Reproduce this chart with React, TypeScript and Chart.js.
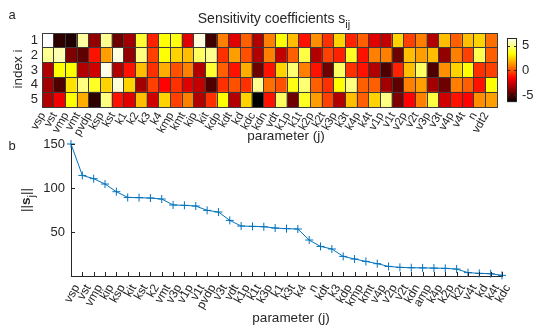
import React, { useEffect, useRef } from 'react';
import { Chart, registerables } from 'chart.js';
Chart.register(...registerables);

const FONT = '"Liberation Sans", Arial, Helvetica, sans-serif';
const INK = '#262626';

// ---- Panel a: sensitivity coefficients s_ij ----
const heatParams = ['vsp','vst','vmp','vmt','pvdp','ksp','kst','k1','k2','k3','k4','kmp','kmt','kip','kit','kdp','kdt','kd','kdc','kdn','vdt','k1p','k1t','k2p','k2t','k3p','k3t','k4p','k4t','v1p','v1t','v2p','v2t','v3p','v3t','v4p','v4t','n','vdt2'];
const rowLabels = ['1', '2', '3', '4', '5'];
const row1 = [6.6,-5.5,-5.8,5.4,-3.6,5.2,-4.3,-3.3,4.0,-0.9,3.4,3.6,-2.1,6.2,-5.2,0.9,-2.1,0.3,-3.0,0.9,3.4,2.1,-1.2,1.2,-0.6,2.5,-0.9,0.3,-2.1,-2.7,2.5,-0.3,0.9,-3.0,2.1,0.3,2.1,2.5,0.6];
const row2 = [5.2,5.6,-4.0,-4.6,-1.2,1.5,6.2,-3.6,5.0,-0.3,3.4,2.5,2.1,4.6,5.2,-0.6,1.5,0.0,-3.0,0.9,-2.7,0.3,4.2,-3.0,-0.3,-0.9,3.8,-1.2,0.9,0.9,-4.3,2.1,1.5,2.1,-3.6,0.9,-0.3,4.4,0.3];
const row3 = [-3.0,3.4,3.4,-3.0,-2.4,6.3,-3.0,-1.2,2.1,-0.6,1.8,0.0,0.9,-3.0,4.0,0.3,-1.2,1.8,-4.3,-1.2,2.5,4.8,0.9,-1.2,-4.3,4.6,-0.6,-1.2,-3.0,-4.9,-0.9,2.1,4.6,-4.9,1.2,2.5,3.4,-0.6,-0.3];
const row4 = [-3.3,-4.9,2.8,5.0,3.8,2.5,6.1,2.5,-3.3,-0.3,-1.5,-0.6,-2.1,-2.7,-4.9,-0.6,0.0,-0.6,5.2,0.6,0.0,3.6,4.8,0.3,-0.6,3.4,5.0,0.3,0.3,-3.3,-4.6,0.9,1.5,-3.3,-4.3,0.9,0.3,-1.2,3.4];
const row5 = [-3.0,-1.8,3.4,1.8,-5.5,5.0,-1.2,-2.1,2.1,-2.4,2.5,-0.3,0.9,-3.0,-0.6,3.4,-3.0,2.5,-6.4,-1.2,4.6,-4.3,3.8,1.5,-0.3,-3.0,2.1,0.3,2.5,5.0,-4.0,-1.5,0.9,4.2,-2.4,-1.2,-1.5,1.2,1.5];
const CMIN = -6.4;
const CMAX = 6.6;
const colorbarTicks = [-5, 0, 5];

// ---- Panel b: norms ||s_j|| ----
const sortedParams = ['vsp','vst','vmp','kip','ksp','kit','kst','k2','vmt','v3p','v1p','v1t','pvdp','v3t','vdt','k1p','k1t','k3p','k1','k3t','k4','n','kdt','k3','kdp','kmp','kmt','v4p','v2p','v2t','kdn','amp','k4p','k2p','k2t','v4t','kd','k4t','kdc'];
const norms = [150,114.3,110.6,104.5,95.8,89.3,89,88.6,87.5,80.7,80.3,79.5,74.6,72.7,63.2,56.8,56.4,56,54.5,53.8,53.4,40.9,33.6,30.7,22.3,19.3,16.6,14,10.9,9.8,9.4,9.2,9.0,8.7,7.9,3.8,3.0,2.6,0.7];
const normTicks = [0, 50, 100, 150];

function hot(v: number): string {
  const t = Math.min(1, Math.max(0, (v - CMIN) / (CMAX - CMIN)));
  const c = (x: number) => Math.round(Math.min(1, Math.max(0, x)) * 255);
  return `rgb(${c(t / 0.375)},${c((t - 0.375) / 0.375)},${c((t - 0.75) / 0.25)})`;
}

const inwardTicks = {
  id: 'inwardTicks',
  afterDraw(chart: any) {
    const { ctx, chartArea, scales } = chart;
    const x = scales.x, y = scales.y;
    ctx.save();
    ctx.strokeStyle = INK;
    ctx.lineWidth = 1;
    ctx.beginPath();
    x.ticks.forEach((_: any, i: number) => {
      const px = Math.round(x.getPixelForTick(i)) + 0.5;
      ctx.moveTo(px, chartArea.bottom);
      ctx.lineTo(px, chartArea.bottom - 4);
    });
    y.ticks.forEach((_: any, i: number) => {
      const py = Math.round(y.getPixelForTick(i)) + 0.5;
      ctx.moveTo(chartArea.left, py);
      ctx.lineTo(chartArea.left + 4, py);
    });
    ctx.stroke();
    ctx.restore();
  },
};

const boxOutline = {
  id: 'boxOutline',
  afterDraw(chart: any) {
    const { ctx, chartArea: a, scales } = chart;
    ctx.save();
    ctx.strokeStyle = INK;
    ctx.lineWidth = 1;
    ctx.strokeRect(Math.round(a.left) + 0.5, Math.round(a.top) + 0.5, Math.round(a.right - a.left) - 1, Math.round(a.bottom - a.top) - 1);
    const y = scales.y;
    ctx.beginPath();
    y.ticks.forEach((_: any, i: number) => {
      const py = Math.round(y.getPixelForTick(i)) + 0.5;
      ctx.moveTo(a.right, py);
      ctx.lineTo(a.right - 3, py);
      ctx.moveTo(a.left, py);
      ctx.lineTo(a.left + 3, py);
    });
    ctx.stroke();
    ctx.restore();
  },
};

const Txt = ({ x, y, rot = 0, size = 13, children }: any) => (
  <div
    style={{
      position: 'absolute',
      left: x,
      top: y,
      transform: `translate(-50%,-50%) rotate(${rot}deg)`,
      fontFamily: FONT,
      fontSize: size,
      color: INK,
      whiteSpace: 'nowrap',
      lineHeight: 1,
    }}
  >
    {children}
  </div>
);

export default function App() {
  const heatRef = useRef<HTMLCanvasElement>(null);
  const barRef = useRef<HTMLCanvasElement>(null);
  const lineRef = useRef<HTMLCanvasElement>(null);

  useEffect(() => {
    Chart.defaults.font.family = FONT;
    Chart.defaults.color = INK;
    const rowsBottomUp = [row5, row4, row3, row2, row1];
    const gridColor = '#3a3a3a';

    const heat = new Chart(heatRef.current as HTMLCanvasElement, {
      type: 'bar',
      data: {
        labels: heatParams,
        datasets: rowsBottomUp.map((row) => ({
          data: row.map(() => 1),
          backgroundColor: row.map(hot),
          borderWidth: 0,
          barPercentage: 1,
          categoryPercentage: 1,
        })),
      },
      options: {
        animation: false,
        responsive: false,
        maintainAspectRatio: false,
        events: [],
        layout: { padding: { top: 33, right: 52, left: 0, bottom: 0 } },
        plugins: { legend: { display: false }, tooltip: { enabled: false } },
        scales: {
          x: {
            stacked: true,
            grid: { offset: true, color: gridColor, lineWidth: 1, drawTicks: false, z: 1 },
            border: { display: true, color: gridColor, z: 1 },
            ticks: { autoSkip: false, minRotation: 60, maxRotation: 60, font: { size: 11.5 }, color: INK, padding: 3, labelOffset: -5 },
            afterFit: (s: any) => { s.height = 43; },
          },
          y: {
            stacked: true,
            min: 0,
            max: 5,
            afterBuildTicks: (s: any) => { s.ticks = [0.5, 1.5, 2.5, 3.5, 4.5].map((v) => ({ value: v })); },
            grid: { offset: true, color: gridColor, lineWidth: 1, drawTicks: false, z: 1 },
            border: { display: true, color: gridColor, z: 1 },
            ticks: { autoSkip: false, font: { size: 13 }, color: INK, padding: 4, callback: (v: any) => rowLabels[Math.round(4.5 - Number(v))] },
            afterFit: (s: any) => { s.width = 42; },
          },
        },
      } as any,
    });

    const bar = new Chart(barRef.current as HTMLCanvasElement, {
      type: 'bar',
      data: {
        labels: [''],
        datasets: [{
          data: [[CMIN, CMAX]] as any,
          backgroundColor: (c: any) => {
            const a = c.chart.chartArea;
            if (!a) return '#f00';
            const g = c.chart.ctx.createLinearGradient(0, a.bottom, 0, a.top);
            g.addColorStop(0, '#000000');
            g.addColorStop(0.375, '#ff0000');
            g.addColorStop(0.75, '#ffff00');
            g.addColorStop(1, '#ffffff');
            return g;
          },
          borderWidth: 0,
          barPercentage: 1,
          categoryPercentage: 1,
        }],
      },
      options: {
        animation: false,
        responsive: false,
        maintainAspectRatio: false,
        events: [],
        layout: { padding: { left: 7, top: 8, bottom: 8, right: 0 } },
        plugins: { legend: { display: false }, tooltip: { enabled: false } },
        scales: {
          x: { display: false },
          y: {
            position: 'right',
            min: CMIN,
            max: CMAX,
            afterBuildTicks: (s: any) => { s.ticks = colorbarTicks.map((v) => ({ value: v })); },
            grid: { drawOnChartArea: false, drawTicks: false },
            border: { display: false },
            ticks: { autoSkip: false, font: { size: 13 }, color: INK, padding: 5 },
            afterFit: (s: any) => { s.width = 32; },
          },
        },
      } as any,
      plugins: [boxOutline],
    });

    const line = new Chart(lineRef.current as HTMLCanvasElement, {
      type: 'line',
      data: {
        labels: sortedParams,
        datasets: [{
          data: norms,
          borderColor: '#0072BD',
          borderWidth: 1,
          pointStyle: 'cross',
          pointRadius: 4,
          pointBorderWidth: 1,
          pointBorderColor: '#0072BD',
          pointBackgroundColor: '#0072BD',
          fill: false,
          tension: 0,
          clip: false,
        } as any],
      },
      options: {
        animation: false,
        responsive: false,
        maintainAspectRatio: false,
        events: [],
        layout: { padding: { top: 14, right: 47, left: 0, bottom: 0 } },
        plugins: { legend: { display: false }, tooltip: { enabled: false } },
        scales: {
          x: {
            grid: { drawOnChartArea: false, drawTicks: false },
            border: { display: true, color: INK },
            ticks: { autoSkip: false, minRotation: 60, maxRotation: 60, font: { size: 12 }, color: INK, padding: 6, labelOffset: 6 },
            afterFit: (s: any) => { s.height = 54; },
          },
          y: {
            min: 0,
            max: 150,
            afterBuildTicks: (s: any) => { s.ticks = normTicks.map((v) => ({ value: v })); },
            grid: { drawOnChartArea: false, drawTicks: false },
            border: { display: true, color: INK },
            ticks: { autoSkip: false, font: { size: 13 }, color: INK, padding: 6, callback: (v: any) => (Number(v) === 0 ? '' : String(v)) },
            afterFit: (s: any) => { s.width = 71; },
          },
        },
      } as any,
      plugins: [inwardTicks],
    });

    return () => {
      heat.destroy();
      bar.destroy();
      line.destroy();
    };
  }, []);

  return (
    <div style={{ position: 'absolute', left: 0, top: 0, width: 549, height: 330, background: '#fff', overflow: 'hidden' }}>
      <canvas ref={heatRef} width={549} height={150} style={{ position: 'absolute', left: 0, top: 0, width: 549, height: 150 }} />
      <canvas ref={barRef} width={49} height={90} style={{ position: 'absolute', left: 500, top: 25, width: 49, height: 90 }} />
      <canvas ref={lineRef} width={549} height={200} style={{ position: 'absolute', left: 0, top: 130, width: 549, height: 200 }} />
      <Txt x={12} y={14} size={13}>a</Txt>
      <Txt x={12} y={145} size={13}>b</Txt>
      <Txt x={274} y={18} size={14}>
        Sensitivity coefficients s<span style={{ fontSize: 11, position: 'relative', top: 5 }}>ij</span>
      </Txt>
      <Txt x={18} y={69} rot={-90} size={13.5}>index i</Txt>
      <Txt x={286} y={136} size={13.5}>parameter (j)</Txt>
      <Txt x={26} y={200} rot={-90} size={13.5}>
        ||<b>s</b><span style={{ fontSize: 11, position: 'relative', top: 5 }}>j</span>||
      </Txt>
      <Txt x={291} y={318} size={13.5}>parameter (j)</Txt>
    </div>
  );
}
